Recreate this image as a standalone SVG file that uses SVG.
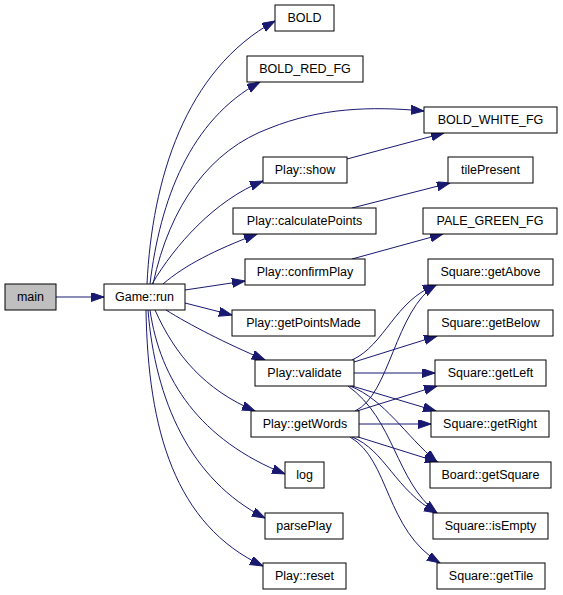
<svg xmlns="http://www.w3.org/2000/svg" width="563" height="595" viewBox="0 0 563 595">
<defs>
<marker id="arr" markerUnits="userSpaceOnUse" markerWidth="14" markerHeight="10" refX="13" refY="4.5" orient="auto">
<path d="M0,0 L13,4.5 L0,9 z" fill="#191970" stroke="#191970" stroke-width="1"/>
</marker>
</defs>
<style>
.n rect{fill:#ffffff;stroke:#000000;stroke-width:1}
.n text{font-family:"Liberation Sans",Arial,sans-serif;font-size:12.5px;text-anchor:middle;fill:#000000}
#edges path{fill:none;stroke:#191970;stroke-width:1;marker-end:url(#arr)}
</style>
<rect width="563" height="595" fill="#ffffff"/>
<g id="edges">
<path d="M56,297 L104,297"/>
<path d="M147,284 C152,180 185,70 275,21"/>
<path d="M150,284 C160,200 190,120 260,82"/>
<path d="M153,284 C170,205 210,150 270,128 C320,108 370,106 424,111"/>
<path d="M152,284 C175,245 215,200 263,181"/>
<path d="M163,284 C185,265 215,250 257,234"/>
<path d="M185,290 L245,281"/>
<path d="M185,303 L232,315"/>
<path d="M166,310 C190,325 225,343 265,360"/>
<path d="M155,310 C175,355 205,390 255,411"/>
<path d="M150,310 C160,380 200,440 285,474"/>
<path d="M148,310 C155,400 190,480 265,518"/>
<path d="M146,310 C148,430 175,525 263,566"/>
<path d="M347,159 L444,133"/>
<path d="M352,208 L450,183"/>
<path d="M352,259 L443,234"/>
<path d="M352,360 C385,345 395,300 436,285"/>
<path d="M354,362 L437,336"/>
<path d="M354,373 L435,373"/>
<path d="M352,386 L436,411"/>
<path d="M350,386 C385,400 405,435 437,462"/>
<path d="M348,386 C395,420 395,480 437,513"/>
<path d="M355,411 C390,395 395,310 436,285"/>
<path d="M357,411 L437,386"/>
<path d="M359,424 L431,424"/>
<path d="M355,436 L438,462"/>
<path d="M352,437 C385,450 395,490 437,513"/>
<path d="M350,437 C390,460 385,530 440,563"/>
</g>
<g id="node-main" class="n"><rect x="5" y="284" width="51" height="26" style="fill:#bfbfbf"/><text x="30.5" y="301">main</text></g>
<g id="node-game-run" class="n"><rect x="104" y="284" width="81" height="26"/><text x="144.5" y="301">Game::run</text></g>
<g id="node-bold" class="n"><rect x="275" y="5" width="59" height="26"/><text x="304.5" y="22">BOLD</text></g>
<g id="node-bold-red-fg" class="n"><rect x="247" y="56" width="116" height="26"/><text x="305" y="73">BOLD_RED_FG</text></g>
<g id="node-bold-white-fg" class="n"><rect x="424" y="107" width="133" height="26"/><text x="490.5" y="124">BOLD_WHITE_FG</text></g>
<g id="node-play-show" class="n"><rect x="263" y="157" width="84" height="26"/><text x="305" y="174">Play::show</text></g>
<g id="node-tilepresent" class="n"><rect x="448" y="157" width="85" height="26"/><text x="490.5" y="174">tilePresent</text></g>
<g id="node-play-calculatepoints" class="n"><rect x="233" y="208" width="143" height="26"/><text x="304.5" y="225">Play::calculatePoints</text></g>
<g id="node-pale-green-fg" class="n"><rect x="423" y="208" width="134" height="26"/><text x="490" y="225">PALE_GREEN_FG</text></g>
<g id="node-play-confirmplay" class="n"><rect x="245" y="259" width="120" height="26"/><text x="305" y="276">Play::confirmPlay</text></g>
<g id="node-square-getabove" class="n"><rect x="428" y="259" width="125" height="26"/><text x="490.5" y="276">Square::getAbove</text></g>
<g id="node-play-getpointsmade" class="n"><rect x="232" y="310" width="143" height="26"/><text x="303.5" y="327">Play::getPointsMade</text></g>
<g id="node-square-getbelow" class="n"><rect x="428" y="310" width="125" height="26"/><text x="490.5" y="327">Square::getBelow</text></g>
<g id="node-play-validate" class="n"><rect x="255" y="360" width="99" height="26"/><text x="304.5" y="377">Play::validate</text></g>
<g id="node-square-getleft" class="n"><rect x="435" y="360" width="111" height="26"/><text x="490.5" y="377">Square::getLeft</text></g>
<g id="node-play-getwords" class="n"><rect x="251" y="411" width="108" height="26"/><text x="305" y="428">Play::getWords</text></g>
<g id="node-square-getright" class="n"><rect x="431" y="411" width="118" height="26"/><text x="490" y="428">Square::getRight</text></g>
<g id="node-log" class="n"><rect x="285" y="462" width="39" height="26"/><text x="304.5" y="479">log</text></g>
<g id="node-board-getsquare" class="n"><rect x="430" y="462" width="121" height="26"/><text x="490.5" y="479">Board::getSquare</text></g>
<g id="node-parseplay" class="n"><rect x="265" y="513" width="78" height="26"/><text x="304" y="530">parsePlay</text></g>
<g id="node-square-isempty" class="n"><rect x="433" y="513" width="115" height="26"/><text x="490.5" y="530">Square::isEmpty</text></g>
<g id="node-play-reset" class="n"><rect x="263" y="563" width="83" height="26"/><text x="304.5" y="580">Play::reset</text></g>
<g id="node-square-gettile" class="n"><rect x="437" y="563" width="108" height="26"/><text x="491" y="580">Square::getTile</text></g>
</svg>
